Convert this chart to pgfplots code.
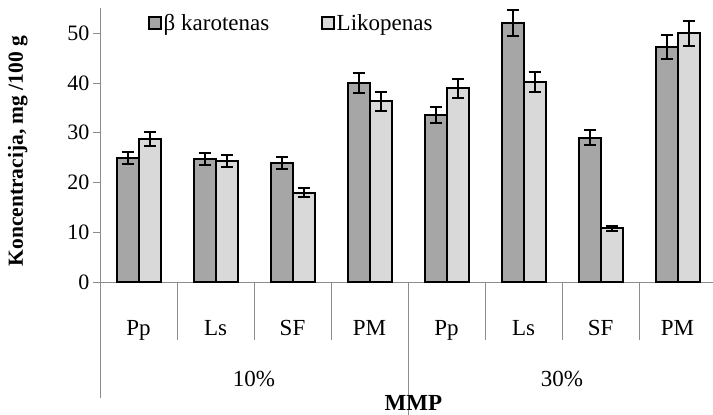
\documentclass[border=0pt]{standalone}
\usepackage{fontspec}
\setmainfont{Liberation Serif}
\usepackage{pgfplots}
\usepackage{pgfplotstable}
\pgfplotsset{compat=1.18}
\definecolor{darkbar}{HTML}{A6A6A6}
\definecolor{lightbar}{HTML}{D9D9D9}
\definecolor{axgray}{HTML}{8C8C8C}
\newcommand\fs{\fontsize{23bp}{26bp}\selectfont}
\newcommand\fsy{\fontsize{22bp}{26bp}\selectfont}
\newcommand\fsl{\fontsize{21.5bp}{25bp}\selectfont}
\pgfplotstableread{
x  beta  betaerr  lik   likerr
0  24.9  1.15     28.7  1.45
1  24.8  1.2      24.3  1.2
2  23.9  1.2      17.95 0.9
3  40.0  2.05     36.3  1.85
4  33.6  1.6      38.9  2.0
5  52.1  2.65     40.2  2.05
6  29.0  1.5      10.85 0.5
7  47.3  2.4      50.0  2.5
}\datatable
\begin{document}
\begin{tikzpicture}
\begin{axis}[
  at={(100bp,133bp)}, anchor=south west,
  scale only axis, width=613bp, height=273.6bp,
  xmin=-0.5, xmax=7.46, ymin=0, ymax=55,
  ybar=0pt, bar width=22bp,
  axis lines*=left,
  axis line style={axgray, line width=1bp},
  ytick={0,10,20,30,40,50},
  ytick style={axgray, line width=1bp},
  tick align=outside, major tick length=7bp,
  xtick={0,...,7},
  xticklabels={Pp,Ls,SF,PM,Pp,Ls,SF,PM},
  xtick style={draw=none},
  xticklabel style={font=\fs, anchor=base, yshift=-46bp},
  yticklabel style={font=\fsy},
  /pgf/number format/assume math mode=true,
  ylabel={\bfseries Koncentracija, mg /100 g},
  ylabel style={font=\fsl, at={(axis description cs:-0.134,0.479)}, anchor=center},
  clip=false,
  legend columns=2,
  legend style={draw=none, fill=none, font=\fs, at={(axis description cs:0.0783,0.9466)}, anchor=west, inner sep=0pt,
    /tikz/every even column/.append style={column sep=50bp},
    /tikz/every odd column/.append style={column sep=0bp}},
  legend image code/.code={\draw[#1, line width=1.5bp] (0bp,-6bp) rectangle (12bp,6bp);},
]
\addplot[fill=darkbar, draw=black, line width=2bp,
  error bars/.cd, y dir=both, y explicit,
  error bar style={black, line width=2bp},
  error mark options={black, line width=2bp, mark size=6bp, rotate=90}]
  table[x=x, y=beta, y error=betaerr] {\datatable};
\addplot[fill=lightbar, draw=black, line width=2bp,
  error bars/.cd, y dir=both, y explicit,
  error bar style={black, line width=2bp},
  error mark options={black, line width=2bp, mark size=6bp, rotate=90}]
  table[x=x, y=lik, y error=likerr] {\datatable};
\legend{β karotenas, Likopenas}
\draw[axgray, line width=1bp] (axis cs:-0.5,0) -- ++(0bp,-116bp);
\draw[axgray, line width=1bp] (axis cs:3.5,0) -- ++(0bp,-140bp);
\draw[axgray, line width=1bp] (axis cs:0.5,0) -- ++(0bp,-58bp);
\draw[axgray, line width=1bp] (axis cs:1.5,0) -- ++(0bp,-58bp);
\draw[axgray, line width=1bp] (axis cs:2.5,0) -- ++(0bp,-58bp);
\draw[axgray, line width=1bp] (axis cs:4.5,0) -- ++(0bp,-58bp);
\draw[axgray, line width=1bp] (axis cs:5.5,0) -- ++(0bp,-58bp);
\draw[axgray, line width=1bp] (axis cs:6.5,0) -- ++(0bp,-58bp);
\node[font=\fs, anchor=base] at (axis cs:1.5,0) [yshift=-104bp] {10\%};
\node[font=\fs, anchor=base] at (axis cs:5.5,0) [yshift=-104bp] {30\%};
\node[font=\fs\bfseries, anchor=base] at (axis cs:3.57,0) [yshift=-128bp] {MMP};
\end{axis}
\pgfresetboundingbox
\useasboundingbox (0,0) rectangle (713bp,415bp);
\end{tikzpicture}
\end{document}
